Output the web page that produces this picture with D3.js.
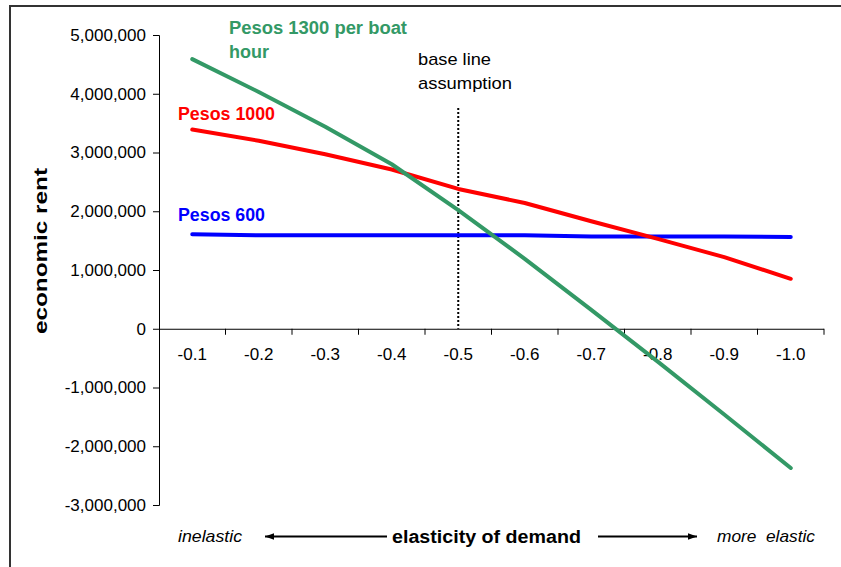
<!DOCTYPE html>
<html><head><meta charset="utf-8">
<script src="https://cdn.jsdelivr.net/npm/d3@7"></script>
<style>body{margin:0;background:#fff;}svg{display:block;font-family:Arial,"Liberation Sans",sans-serif;}</style>
</head><body><svg id="c" width="841" height="567"></svg>
<script>
const categories = ["-0.1","-0.2","-0.3","-0.4","-0.5","-0.6","-0.7","-0.8","-0.9","-1.0"];
const pesos1300 = [4590000, 4030000, 3440000, 2800000, 2020000, 1190000, 320000, -560000, -1460000, -2370000];
const pesos1000 = [3390000, 3200000, 2970000, 2710000, 2380000, 2140000, 1830000, 1530000, 1220000, 850000];
const pesos600 = [1610000, 1590000, 1590000, 1590000, 1590000, 1590000, 1570000, 1570000, 1570000, 1560000];
const yTicks = [5000000, 4000000, 3000000, 2000000, 1000000, 0, -1000000, -2000000, -3000000];
const baseline = "-0.5";

const svg = d3.select("#c");
const x = d3.scaleBand().domain(categories).range([159, 824]);
const y = d3.scaleLinear().domain([-3000000, 5000000]).range([505, 35]);
const FF = "Arial, 'Liberation Sans', sans-serif";

// frame
svg.append("path").attr("d","M10,567 V6 H841").attr("fill","none").attr("stroke","#333").attr("stroke-width",2);

// y axis
const fmt = d3.formatLocale({decimal:".", thousands:",", grouping:[3], currency:["",""], minus:"-"}).format(",");
const ya = svg.append("g").attr("transform","translate(159,0)")
  .call(d3.axisLeft(y).tickValues(yTicks).tickFormat(d=>fmt(d)).tickSize(6).tickPadding(7));
ya.selectAll("text").attr("font-size",17).attr("fill","#000").attr("font-family",FF);
ya.selectAll("line,path").attr("stroke","#000");
ya.select(".domain").attr("d","M-6,35.5H0.5V505.5H-6");

// x axis at zero
const xa = svg.append("g").attr("transform",`translate(0,${y(0)})`)
  .call(d3.axisBottom(x).tickSize(0).tickPadding(19));
xa.select(".domain").attr("d",`M159,0.5H824`).attr("stroke","#000");
xa.selectAll("text").attr("font-size",17).attr("fill","#000").attr("font-family",FF);
const bounds = categories.map(c=>x(c)).concat([x.range()[1]]);
svg.append("g").selectAll("line").data(bounds.slice(1)).join("line")
  .attr("x1",d=>d).attr("x2",d=>d).attr("y1",y(0)).attr("y2",y(0)+6).attr("stroke","#000");

// helper for text with target length
function txt(xp, yp, s, size, len, opts={}) {
  const t = svg.append("text").attr("x",xp).attr("y",yp).attr("font-size",size).attr("font-family",FF).text(s);
  if (len) t.attr("textLength",len).attr("lengthAdjust","spacingAndGlyphs");
  if (opts.bold) t.attr("font-weight","bold");
  if (opts.italic) t.attr("font-style","italic");
  if (opts.fill) t.attr("fill",opts.fill);
  if (opts.anchor) t.attr("text-anchor",opts.anchor);
  if (opts.transform) t.attr("transform",opts.transform);
  return t;
}

// baseline dotted
const bx = x(baseline)+x.bandwidth()/2;
svg.append("line").attr("x1",bx).attr("x2",bx).attr("y1",108).attr("y2",y(0))
  .attr("stroke","#000").attr("stroke-width",2).attr("stroke-dasharray","2,2");
txt(418, 65, "base line", 17, 73);
txt(418, 89, "assumption", 17, 94);

// lines
const line = d3.line().x((d,i)=>x(categories[i])+x.bandwidth()/2).y(d=>y(d));
const series = [[pesos600,"#0000FF"],[pesos1000,"#FF0000"],[pesos1300,"#339966"]];
series.forEach(([s,c])=>{
  svg.append("path").datum(s).attr("d",line).attr("fill","none").attr("stroke",c)
    .attr("stroke-width",4).attr("stroke-linecap","round").attr("stroke-linejoin","round");
});

// series labels
txt(229, 34, "Pesos 1300 per boat", 18, 178, {bold:true, fill:"#339966"});
txt(229, 58, "hour", 18, null, {bold:true, fill:"#339966"});
txt(178, 120, "Pesos 1000", 18, 97, {bold:true, fill:"#FF0000"});
txt(178, 221, "Pesos 600", 18, 87, {bold:true, fill:"#0000FF"});

// y title
txt(0, 0, "economic rent", 18, 166, {bold:true, anchor:"middle", transform:"translate(47,251) rotate(-90)"});

// bottom annotation
svg.append("defs").append("marker").attr("id","ah").attr("viewBox","0 0 10 10").attr("refX",10).attr("refY",5)
  .attr("markerWidth",5).attr("markerHeight",5).attr("orient","auto-start-reverse")
  .append("path").attr("d","M0,1.5L10,5L0,8.5Z").attr("fill","#000");
txt(178, 542, "inelastic", 17, 64, {italic:true});
svg.append("line").attr("x1",387).attr("x2",265).attr("y1",536.5).attr("y2",536.5).attr("stroke","#000").attr("stroke-width",1.8).attr("marker-end","url(#ah)");
txt(392, 543, "elasticity of demand", 18, 189, {bold:true});
svg.append("line").attr("x1",598).attr("x2",697).attr("y1",536.5).attr("y2",536.5).attr("stroke","#000").attr("stroke-width",1.8).attr("marker-end","url(#ah)");
txt(717, 542, "more\u00a0 elastic", 17, 98, {italic:true});
</script></body></html>
